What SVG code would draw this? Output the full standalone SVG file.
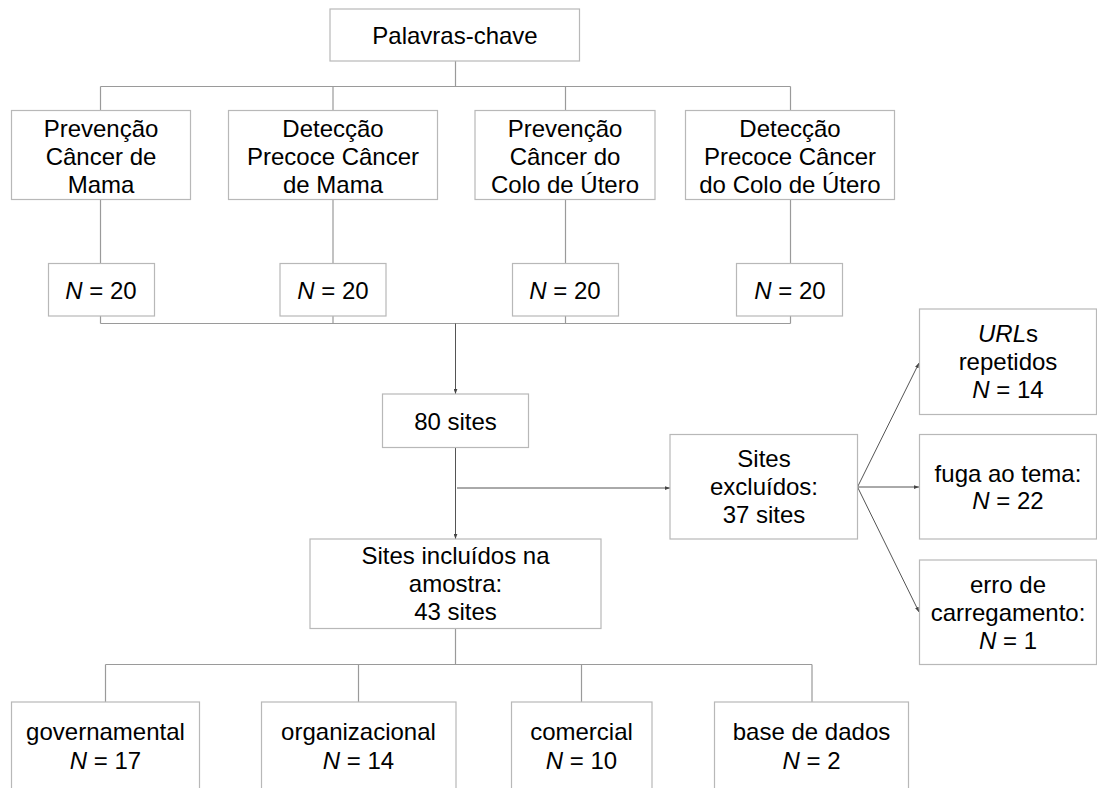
<svg xmlns="http://www.w3.org/2000/svg" width="1097" height="788" viewBox="0 0 1097 788">
<defs>
<style>
.box{fill:#fff;stroke:#b8b8b8;stroke-width:1.2}
.t{font-family:"Liberation Sans",Arial,sans-serif;font-size:24px;fill:#000;text-anchor:middle}
.i{font-style:italic}
.tree{fill:none;stroke:#9a9a9a;stroke-width:1.2}
.arr{fill:none;stroke:#555;stroke-width:1;marker-end:url(#ah)}
</style>
<marker id="ah" viewBox="0 0 8 6" refX="8" refY="3" markerWidth="5" markerHeight="4" orient="auto" markerUnits="userSpaceOnUse">
<path d="M0,0 L8,3 L0,6 z" fill="#444"/>
</marker>
</defs>
<rect width="1097" height="788" fill="#fff"/>
<g id="connectors">
<path class="tree" d="M455.5,61 V86.5 M100.5,86.5 H790.5 M100.5,86.5 V110 M333,86.5 V110 M565.5,86.5 V110 M790.5,86.5 V110"/>
<path class="tree" d="M100.5,199.5 V263 M333,199.5 V263 M565.5,199.5 V263 M790.5,199.5 V263"/>
<path class="tree" d="M100.5,316 V323.5 M333,316 V323.5 M565.5,316 V323.5 M790.5,316 V323.5 M100.5,323.5 H790.5"/>
<path class="arr" d="M455.5,323.5 V394"/>
<path class="arr" d="M455.5,448 V539"/>
<path class="arr" d="M457,488 H670"/>
<path class="arr" d="M857.5,487 L919,363"/>
<path class="arr" d="M857.5,487 H919"/>
<path class="arr" d="M857.5,487 L919,612"/>
<path class="tree" d="M455.5,628.5 V664.5 M105.5,664.5 H812 M105.5,664.5 V702 M358.5,664.5 V702 M581.5,664.5 V702 M812,664.5 V702"/>
</g>
<g id="n-palavras"><rect class="box" x="330" y="9" width="249.5" height="52"/><text class="t" x="455" y="44">Palavras-chave</text></g>
<g id="n-k1"><rect class="box" x="11.5" y="110.5" width="179" height="89"/><text class="t" x="101" y="137">Prevenção</text><text class="t" x="101" y="165">Câncer de</text><text class="t" x="101" y="193">Mama</text></g>
<g id="n-k2"><rect class="box" x="228.5" y="110.5" width="209" height="89"/><text class="t" x="333" y="137">Detecção</text><text class="t" x="333" y="165">Precoce Câncer</text><text class="t" x="333" y="193">de Mama</text></g>
<g id="n-k3"><rect class="box" x="475" y="110.5" width="180" height="89"/><text class="t" x="565" y="137">Prevenção</text><text class="t" x="565" y="165">Câncer do</text><text class="t" x="565" y="193">Colo de Útero</text></g>
<g id="n-k4"><rect class="box" x="685.5" y="110.5" width="209" height="89"/><text class="t" x="790" y="137">Detecção</text><text class="t" x="790" y="165">Precoce Câncer</text><text class="t" x="790" y="193">do Colo de Útero</text></g>
<g id="n-n1"><rect class="box" x="48.5" y="263.5" width="106" height="52.5"/><text class="t" x="101" y="299"><tspan class="i">N</tspan> = 20</text></g>
<g id="n-n2"><rect class="box" x="280" y="263.5" width="106" height="52.5"/><text class="t" x="333" y="299"><tspan class="i">N</tspan> = 20</text></g>
<g id="n-n3"><rect class="box" x="512.5" y="263.5" width="106" height="52.5"/><text class="t" x="565" y="299"><tspan class="i">N</tspan> = 20</text></g>
<g id="n-n4"><rect class="box" x="736.5" y="263.5" width="106" height="52.5"/><text class="t" x="790" y="299"><tspan class="i">N</tspan> = 20</text></g>
<g id="n-80"><rect class="box" x="382.5" y="394" width="146" height="53.5"/><text class="t" x="455.5" y="430">80 sites</text></g>
<g id="n-excl"><rect class="box" x="670" y="434.5" width="187.5" height="104.5"/><text class="t" x="764" y="467">Sites</text><text class="t" x="764" y="495">excluídos:</text><text class="t" x="764" y="523">37 sites</text></g>
<g id="n-urls"><rect class="box" x="919.5" y="309" width="177" height="105.5"/><text class="t" x="1008" y="342"><tspan class="i">URL</tspan>s</text><text class="t" x="1008" y="370">repetidos</text><text class="t" x="1008" y="398"><tspan class="i">N</tspan> = 14</text></g>
<g id="n-fuga"><rect class="box" x="919.5" y="434.5" width="177" height="104.5"/><text class="t" x="1008" y="482">fuga ao tema:</text><text class="t" x="1008" y="509"><tspan class="i">N</tspan> = 22</text></g>
<g id="n-erro"><rect class="box" x="919.5" y="560" width="177" height="104.5"/><text class="t" x="1008" y="593">erro de</text><text class="t" x="1008" y="621">carregamento:</text><text class="t" x="1008" y="649"><tspan class="i">N</tspan> = 1</text></g>
<g id="n-incl"><rect class="box" x="310" y="539" width="291" height="89.5"/><text class="t" x="455.5" y="564">Sites incluídos na</text><text class="t" x="455.5" y="592">amostra:</text><text class="t" x="455.5" y="620">43 sites</text></g>
<g id="n-gov"><rect class="box" x="11.5" y="702" width="188" height="110"/><text class="t" x="105.5" y="740">governamental</text><text class="t" x="105.5" y="769"><tspan class="i">N</tspan> = 17</text></g>
<g id="n-org"><rect class="box" x="261.5" y="702" width="194.5" height="110"/><text class="t" x="358.5" y="740">organizacional</text><text class="t" x="358.5" y="769"><tspan class="i">N</tspan> = 14</text></g>
<g id="n-com"><rect class="box" x="511.5" y="702" width="140.5" height="110"/><text class="t" x="581.5" y="740">comercial</text><text class="t" x="581.5" y="769"><tspan class="i">N</tspan> = 10</text></g>
<g id="n-base"><rect class="box" x="714.5" y="702" width="194" height="110"/><text class="t" x="811.5" y="740">base de dados</text><text class="t" x="811.5" y="769"><tspan class="i">N</tspan> = 2</text></g>
</svg>
